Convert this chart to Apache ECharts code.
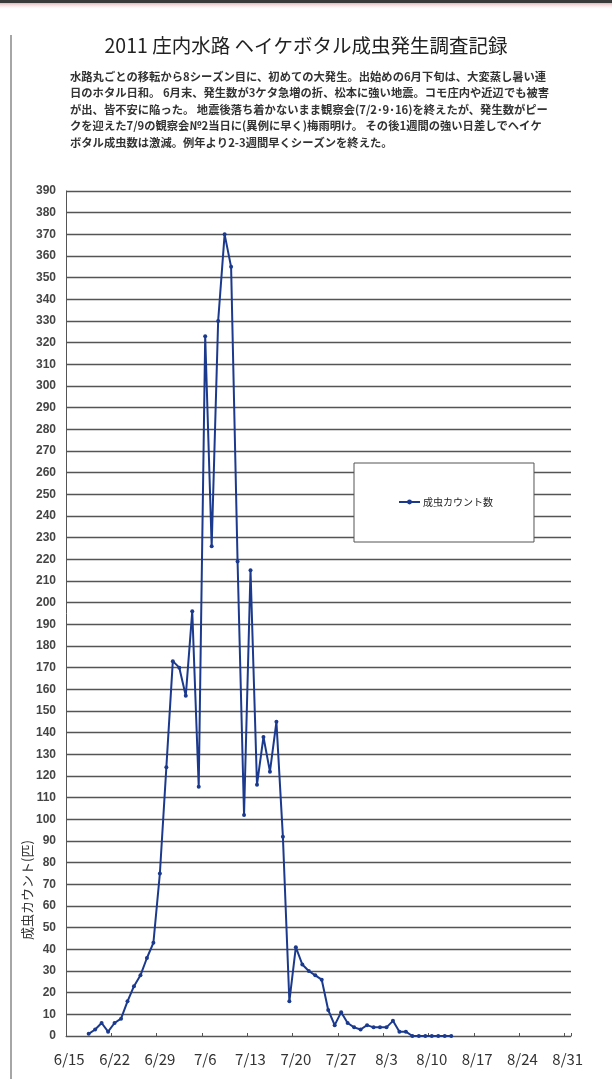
<!DOCTYPE html>
<html>
<head>
<meta charset="utf-8">
<script src="https://cdn.jsdelivr.net/npm/echarts@6/dist/echarts.min.js"></script>
<style>
  html, body { margin: 0; padding: 0; background: #fff; }
  #chart { width: 612px; height: 1079px; }
</style>
</head>
<body>
<div id="chart"></div>
<script>
// Observation days (2011) and adult firefly counts
const obsDates = [
  '6/18','6/19','6/20','6/21','6/22','6/23','6/24','6/25','6/26','6/27','6/28','6/29',
  '6/30','7/1','7/2','7/3','7/4','7/5','7/6','7/7','7/8','7/9','7/10','7/11',
  '7/12','7/13','7/14','7/15','7/16','7/17','7/18','7/19','7/20','7/21','7/22','7/23',
  '7/24','7/25','7/26','7/27','7/28','7/29','7/30','7/31','8/1','8/2','8/3','8/4',
  '8/5','8/6','8/7','8/8','8/9','8/10','8/11','8/12','8/13'
];
const adultCounts = [
  1, 3, 6, 2, 6, 8, 16, 23, 28, 36, 43, 75,
  124, 173, 170, 157, 196, 115, 323, 226, 330, 370, 355, 219,
  102, 215, 116, 138, 122, 145, 92, 16, 41, 33, 30, 28,
  26, 12, 5, 11, 6, 4, 3, 5, 4, 4, 4, 7,
  2, 2, 0, 0, 0, 0, 0, 0, 0
];
// Weekly tick labels on the date axis
const xTickLabels = ['6/15','6/22','6/29','7/6','7/13','7/20','7/27','8/3','8/10','8/17','8/24','8/31'];
const yMin = 0, yMax = 390, yStep = 10;

const titleText = '2011 庄内水路 ヘイケボタル成虫発生調査記録';
const noteLines = [
  '水路丸ごとの移転から8シーズン目に、初めての大発生。出始めの6月下旬は、大変蒸し暑い連',
  '日のホタル日和。 6月末、発生数が3ケタ急増の折、松本に強い地震。コモ庄内や近辺でも被害',
  'が出、皆不安に陥った。 地震後落ち着かないまま観察会(7/2･9･16)を終えたが、発生数がピー',
  'クを迎えた7/9の観察会№2当日に(異例に早く)梅雨明け。 その後1週間の強い日差しでヘイケ',
  'ボタル成虫数は激減。例年より2-3週間早くシーズンを終えた。'
];
const seriesName = '成虫カウント数';
const yAxisTitle = '成虫カウント(匹)';

// Daily category axis from the first to the last weekly label
function buildDays(first, last) {
  const [fm, fd] = first.split('/').map(Number);
  const [lm, ld] = last.split('/').map(Number);
  const d = new Date(2011, fm - 1, fd);
  const end = new Date(2011, lm - 1, ld);
  const out = [];
  while (d <= end) {
    out.push((d.getMonth() + 1) + '/' + d.getDate());
    d.setDate(d.getDate() + 1);
  }
  return out;
}
const days = buildDays(xTickLabels[0], xTickLabels[xTickLabels.length - 1]);
const labelSet = new Set(xTickLabels);
const seriesData = obsDates.map((d, i) => [d, adultCounts[i]]);

const lineColor = '#1b3a8e';
const gridColor = '#555';

const chart = echarts.init(document.getElementById('chart'), null, { renderer: 'canvas' });
chart.setOption({
  backgroundColor: '#fff',
  animation: false,
  title: {
    text: titleText,
    left: 'center',
    top: 31,
    textStyle: { fontFamily: 'Noto Sans CJK JP', fontSize: 19.5, fontWeight: 'normal', color: '#222' }
  },
  legend: {
    left: 354,
    top: 463,
    padding: [34, 41, 35, 44],
    backgroundColor: '#fff',
    borderColor: '#555',
    borderWidth: 1,
    itemWidth: 21,
    itemHeight: 6,
    itemGap: 0,
    textStyle: { fontFamily: 'Noto Sans CJK JP', fontSize: 10, color: '#222', padding: [0, 0, 0, -2] },
    data: [seriesName]
  },
  grid: { left: 66, right: 41, top: 191, bottom: 43, containLabel: false },
  xAxis: {
    type: 'category',
    data: days,
    boundaryGap: true,
    axisLine: { show: true, lineStyle: { color: gridColor, width: 1 } },
    axisTick: {
      show: true, inside: true, length: 3,
      interval: (idx, val) => labelSet.has(val),
      lineStyle: { color: gridColor }
    },
    axisLabel: {
      interval: (idx, val) => labelSet.has(val),
      margin: 16,
      fontFamily: 'Noto Sans CJK JP',
      fontSize: 15,
      color: '#333'
    },
    splitLine: { show: false }
  },
  yAxis: {
    type: 'value',
    min: yMin, max: yMax, interval: yStep,
    axisLine: { show: true, lineStyle: { color: gridColor, width: 1 } },
    axisTick: { show: false },
    axisLabel: { margin: 10, fontFamily: 'Liberation Sans', fontSize: 12, fontWeight: 'bold', color: '#444' },
    splitLine: { show: true, lineStyle: { color: gridColor, width: 1.3 } }
  },
  series: [{
    name: seriesName,
    type: 'line',
    data: seriesData,
    connectNulls: true,
    symbol: 'circle',
    symbolSize: 4,
    showAllSymbol: true,
    lineStyle: { color: lineColor, width: 2 },
    itemStyle: { color: lineColor }
  }],
  graphic: [
    // page edge strip along the top
    { type: 'rect', shape: { x: 0, y: 0, width: 612, height: 3 }, style: { fill: '#3a3a3a' }, silent: true },
    { type: 'rect', shape: { x: 0, y: 3, width: 612, height: 7 }, silent: true,
      style: { fill: new echarts.graphic.LinearGradient(0, 0, 0, 1, [
        { offset: 0, color: 'rgba(210,120,130,0.55)' },
        { offset: 1, color: 'rgba(255,255,255,0)' }
      ]) } },
    // left frame line
    { type: 'line', shape: { x1: 11, y1: 35, x2: 11, y2: 1079 }, style: { stroke: '#888', lineWidth: 1.5 }, silent: true },
    // description block
    { type: 'text', left: 70, top: 68, silent: true,
      style: { text: noteLines.join('\n'), fontFamily: 'Noto Sans CJK JP', fontSize: 11.3, fontWeight: 'bold',
               lineHeight: 16.6, fill: '#333' } },
    // vertical axis title
    { type: 'text', x: 27, y: 890, rotation: Math.PI / 2, silent: true,
      style: { text: yAxisTitle, fontFamily: 'Noto Sans CJK JP', fontSize: 13, fill: '#333',
               align: 'center', verticalAlign: 'middle' } }
  ]
});
</script>
</body>
</html>
